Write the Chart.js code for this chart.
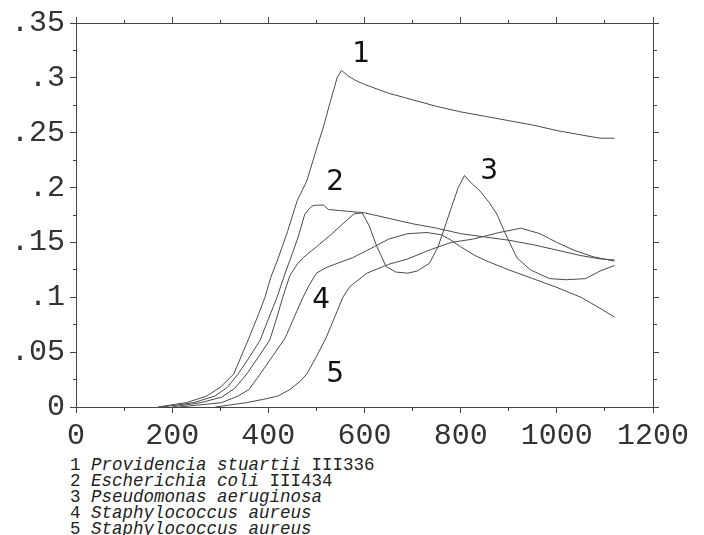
<!DOCTYPE html>
<html>
<head>
<meta charset="utf-8">
<title>Growth curves</title>
<script src="https://cdn.jsdelivr.net/npm/chart.js@4.4.1/dist/chart.umd.min.js"></script>
<style>
  body { margin: 0; background: #fff; }
  #wrap { width: 704px; height: 535px; position: relative; overflow: hidden; }
  #legend {
    font-family: "Liberation Mono", "DejaVu Sans Mono", monospace;
    font-size: 17.5px;
    line-height: 16px;
    color: #222;
    padding-left: 70px;
    margin-top: 2px;
    white-space: pre;
  }
</style>
</head>
<body>
<div id="wrap">
  <canvas id="growthChart" width="704" height="455"></canvas>
  <div id="legend"></div>
</div>
<script>
// Time axis values and optical density readings
const s1x = [170, 230, 272, 300, 328, 358, 380, 393, 405, 420, 440, 460, 480, 500, 515, 530, 543, 552, 565, 580, 600, 650, 700, 750, 800, 850, 900, 950, 1000, 1050, 1090, 1120];
const s1y = [0, 0.004, 0.010, 0.018, 0.030, 0.061, 0.085, 0.100, 0.118, 0.135, 0.160, 0.188, 0.206, 0.235, 0.256, 0.280, 0.300, 0.307, 0.302, 0.298, 0.294, 0.286, 0.280, 0.274, 0.269, 0.265, 0.261, 0.257, 0.252, 0.248, 0.245, 0.245];

const s2x = [180, 245, 289, 315, 337, 360, 383, 400, 418, 435, 450, 462, 476, 490, 500, 515, 525, 550, 600, 650, 700, 750, 800, 850, 900, 950, 1000, 1050, 1090, 1120];
const s2y = [0, 0.004, 0.010, 0.018, 0.030, 0.045, 0.061, 0.080, 0.100, 0.122, 0.140, 0.155, 0.176, 0.183, 0.184, 0.184, 0.180, 0.179, 0.177, 0.172, 0.167, 0.163, 0.158, 0.155, 0.152, 0.148, 0.143, 0.138, 0.135, 0.134];

const s3x = [200, 260, 303, 330, 355, 380, 403, 418, 430, 445, 460, 472, 500, 530, 555, 578, 595, 610, 625, 645, 665, 690, 710, 735, 753, 767, 780, 795, 808, 820, 840, 860, 875, 895, 917, 945, 985, 1020, 1060, 1090, 1120];
const s3y = [0, 0.004, 0.009, 0.017, 0.030, 0.046, 0.061, 0.082, 0.100, 0.120, 0.130, 0.136, 0.146, 0.157, 0.167, 0.176, 0.177, 0.165, 0.147, 0.128, 0.123, 0.122, 0.124, 0.131, 0.146, 0.164, 0.181, 0.200, 0.211, 0.205, 0.197, 0.186, 0.176, 0.156, 0.136, 0.125, 0.117, 0.116, 0.117, 0.124, 0.129];

const s4x = [215, 303, 337, 360, 383, 410, 435, 455, 472, 485, 500, 520, 550, 575, 620, 650, 690, 730, 760, 780, 800, 830, 860, 900, 950, 1000, 1050, 1090, 1120];
const s4y = [0, 0.004, 0.010, 0.016, 0.030, 0.047, 0.063, 0.083, 0.100, 0.111, 0.122, 0.127, 0.132, 0.136, 0.146, 0.153, 0.158, 0.159, 0.157, 0.152, 0.146, 0.138, 0.132, 0.125, 0.117, 0.109, 0.100, 0.090, 0.082];

const s5x = [290, 355, 390, 420, 445, 465, 480, 500, 520, 540, 555, 570, 605, 650, 690, 735, 780, 825, 880, 925, 965, 1000, 1035, 1075, 1120];
const s5y = [0, 0.004, 0.007, 0.010, 0.016, 0.023, 0.030, 0.046, 0.063, 0.084, 0.100, 0.110, 0.122, 0.130, 0.135, 0.143, 0.150, 0.153, 0.159, 0.163, 0.158, 0.150, 0.143, 0.137, 0.133];

// Curve numbers written inside the plot
const curveNumbers = ['1', '2', '3', '4', '5'];
const numberX = [593, 539, 859, 510, 539];
const numberY = [0.321, 0.204, 0.214, 0.097, 0.029];

// Legend entries
const legendNums = ['1', '2', '3', '4', '5'];
const legendNames = ['Providencia stuartii', 'Escherichia coli', 'Pseudomonas aeruginosa', 'Staphylococcus aureus', 'Staphylococcus aureus'];
const legendStrains = ['III336', 'III434', '', '', ''];

const seriesX = [s1x, s2x, s3x, s4x, s5x];
const seriesY = [s1y, s2y, s3y, s4y, s5y];

const lineColor = '#4a4a4a';
const axisColor = '#444';
const labelColor = '#333';
const monoFont = "'Liberation Mono', 'DejaVu Sans Mono', monospace";

// minor ticks are drawn half length with a dash pattern
const innerHalf = [0, 3, 3, 100]; // for axes whose tick is drawn from the outside in
const outerHalf = [3, 100];       // for axes whose tick is drawn from the border out

function isMinorX(v) { return Math.round(v / 100) % 2 === 1; }
function isMinorY(v) { return Math.round(v / 0.025) % 2 === 1; }

function yLabel(v) {
    const r = Math.round(v * 1000) / 1000;
    if (r === 0) return '0';
    return String(r).replace(/^0\./, '.');
}

const datasets = seriesX.map((xs, i) => ({
    label: curveNumbers[i],
    data: xs.map((x, j) => ({ x: x, y: seriesY[i][j] })),
    borderColor: lineColor,
    borderWidth: 1,
    pointRadius: 0,
    fill: false,
    tension: 0
}));

// Plugin that writes the curve numbers at data positions
const curveNumberPlugin = {
    id: 'curveNumbers',
    afterDatasetsDraw(chart) {
        const ctx = chart.ctx;
        const xs = chart.scales.x, ys = chart.scales.y;
        ctx.save();
        ctx.font = "28px 'DejaVu Sans', sans-serif";
        ctx.fillStyle = '#111';
        ctx.textAlign = 'center';
        ctx.textBaseline = 'middle';
        curveNumbers.forEach((t, i) => {
            ctx.fillText(t, xs.getPixelForValue(numberX[i]), ys.getPixelForValue(numberY[i]));
        });
        ctx.restore();
    }
};

const ctx = document.getElementById('growthChart').getContext('2d');
const growthChart = new Chart(ctx, {
    type: 'line',
    data: { datasets: datasets },
    options: {
        responsive: false,
        animation: false,
        events: [],
        layout: { padding: 0 },
        plugins: { legend: { display: false }, tooltip: { enabled: false } },
        scales: {
            x: {
                type: 'linear',
                position: 'bottom',
                min: 0, max: 1200,
                afterFit(s) { s.height = 48; },
                border: { display: true, color: axisColor, width: 1 },
                grid: {
                    drawOnChartArea: false, drawTicks: true, tickLength: 6, color: axisColor,
                    tickBorderDash: (c) => isMinorX(c.tick.value) ? outerHalf : []
                },
                ticks: {
                    stepSize: 100, autoSkip: false, maxRotation: 0, padding: 5,
                    color: labelColor, font: { family: monoFont, size: 30 },
                    callback: (v) => isMinorX(v) ? '' : String(v)
                }
            },
            xTop: {
                type: 'linear',
                position: 'top',
                min: 0, max: 1200,
                afterFit(s) { s.height = 22; },
                border: { display: true, color: axisColor, width: 1 },
                grid: {
                    drawOnChartArea: false, drawTicks: true, tickLength: 6, color: axisColor,
                    tickBorderDash: (c) => isMinorX(c.tick.value) ? innerHalf : []
                },
                ticks: { stepSize: 100, autoSkip: false, display: false }
            },
            y: {
                type: 'linear',
                position: 'left',
                min: 0, max: 0.35,
                afterFit(s) { s.width = 76; },
                border: { display: true, color: axisColor, width: 1 },
                grid: {
                    drawOnChartArea: false, drawTicks: true, tickLength: 6, color: axisColor,
                    tickBorderDash: (c) => isMinorY(c.tick.value) ? innerHalf : []
                },
                ticks: {
                    stepSize: 0.025, autoSkip: false, padding: 5,
                    color: labelColor, font: { family: monoFont, size: 30 },
                    callback: (v) => isMinorY(v) ? '' : yLabel(v)
                }
            },
            yRight: {
                type: 'linear',
                position: 'right',
                min: 0, max: 0.35,
                afterFit(s) { s.width = 51; },
                border: { display: true, color: axisColor, width: 1 },
                grid: {
                    drawOnChartArea: false, drawTicks: true, tickLength: 6, color: axisColor,
                    tickBorderDash: (c) => isMinorY(c.tick.value) ? outerHalf : []
                },
                ticks: { stepSize: 0.025, autoSkip: false, display: false }
            }
        }
    },
    plugins: [curveNumberPlugin]
});

// Build the text legend under the chart
const legendBox = document.getElementById('legend');
legendNums.forEach((n, i) => {
    const row = document.createElement('div');
    row.appendChild(document.createTextNode(n + ' '));
    const name = document.createElement('i');
    name.textContent = legendNames[i];
    row.appendChild(name);
    if (legendStrains[i]) row.appendChild(document.createTextNode(' ' + legendStrains[i]));
    legendBox.appendChild(row);
});
</script>
</body>
</html>
